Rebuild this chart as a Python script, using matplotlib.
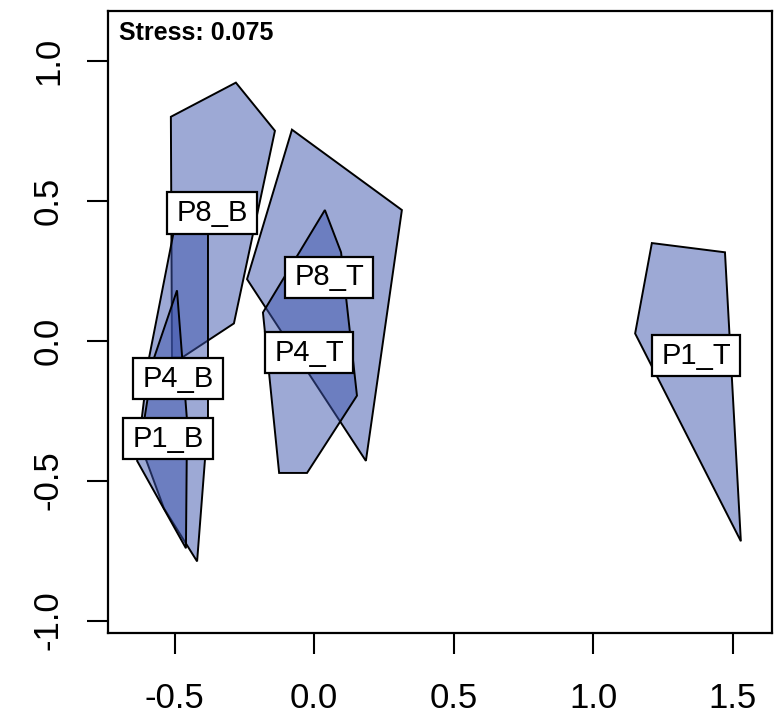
import matplotlib
matplotlib.use("Agg")
import matplotlib.pyplot as plt
from matplotlib.patches import Polygon
from matplotlib.path import Path

# ---- data (NMDS ordination hulls) ----
groups = ["P8_B", "P4_B", "P1_B", "P8_T", "P4_T", "P1_T"]

hull_P8_B_x = [-0.513, -0.280, -0.140, -0.287, -0.473, -0.509]
hull_P8_B_y = [0.799, 0.921, 0.749, 0.061, -0.061, -0.061]

hull_P4_B_x = [-0.484, -0.380, -0.380, -0.419, -0.538, -0.627, -0.591]
hull_P4_B_y = [0.484, 0.484, -0.287, -0.789, -0.599, -0.358, -0.061]

hull_P1_B_x = [-0.491, -0.455, -0.459, -0.634, -0.609, -0.573]
hull_P1_B_y = [0.179, -0.287, -0.742, -0.430, -0.287, -0.061]

hull_P8_T_x = [-0.079, 0.315, 0.186, -0.240]
hull_P8_T_y = [0.753, 0.466, -0.430, 0.219]

hull_P4_T_x = [0.039, 0.097, 0.154, -0.025, -0.125, -0.183]
hull_P4_T_y = [0.466, 0.315, -0.197, -0.473, -0.473, 0.100]

hull_P1_T_x = [1.211, 1.473, 1.530, 1.151]
hull_P1_T_y = [0.348, 0.315, -0.717, 0.025]

label_x = [-0.366, -0.487, -0.523, 0.054, -0.018, 1.369]
label_y = [0.455, -0.136, -0.351, 0.226, -0.043, -0.054]

stress_text = "Stress: 0.075"
xticks = [-0.5, 0.0, 0.5, 1.0, 1.5]
yticks = [-1.0, -0.5, 0.0, 0.5, 1.0]

hulls = {
    "P8_B": (hull_P8_B_x, hull_P8_B_y),
    "P4_B": (hull_P4_B_x, hull_P4_B_y),
    "P1_B": (hull_P1_B_x, hull_P1_B_y),
    "P8_T": (hull_P8_T_x, hull_P8_T_y),
    "P4_T": (hull_P4_T_x, hull_P4_T_y),
    "P1_T": (hull_P1_T_x, hull_P1_T_y),
}

plt.rcParams['font.family'] = ['Liberation Sans', 'DejaVu Sans']

W, H = 783, 721
fig = plt.figure(figsize=(W / 100, H / 100), dpi=100)
L, R, T, B = 108, 772, 11, 633
ax = fig.add_axes([L / W, 1 - B / H, (R - L) / W, (B - T) / H])

fill_col = (0.24, 0.33, 0.68, 0.5)
for g in groups:
    xs, ys = hulls[g]
    poly = Polygon(list(zip(xs, ys)), closed=True, facecolor=fill_col,
                   edgecolor="black", linewidth=1.4, antialiased=True, zorder=2)
    ax.add_patch(poly)


def wide_box(x0, y0, width, height, mutation_size):
    padx = 0.32 * mutation_size
    pady = 0.23 * mutation_size
    x0, y0 = x0 - padx, y0 - pady
    x1, y1 = x0 + width + 2 * padx, y0 + height + 2 * pady
    return Path([(x0, y0), (x1, y0), (x1, y1), (x0, y1), (x0, y0)], closed=True)


for g, lx, ly in zip(groups, label_x, label_y):
    ax.text(lx, ly, g, ha="center", va="center", fontsize=21, color="black",
            zorder=5,
            bbox=dict(boxstyle=wide_box, facecolor="white", edgecolor="black",
                      linewidth=1.6))

ax.text(0.0166, 0.964, stress_text, transform=ax.transAxes, ha="left", va="center",
        fontsize=18, fontweight="bold")

ax.set_xlim((L - 314) / 279, (R - 314) / 279)
ax.set_ylim((340.5 - B) / 280, (340.5 - T) / 280)
ax.set_xticks(xticks)
ax.set_yticks(yticks)
ax.set_xticklabels([f"{v:.1f}" for v in xticks])
ax.set_yticklabels([f"{v:.1f}" for v in yticks], rotation=90, va="center")
ax.tick_params(direction="out", length=15, width=1.5, labelsize=25)
ax.tick_params(axis="x", pad=20)
ax.tick_params(axis="y", pad=16)
for s in ax.spines.values():
    s.set_linewidth(1.6)

fig.savefig("out.png", dpi=100)
